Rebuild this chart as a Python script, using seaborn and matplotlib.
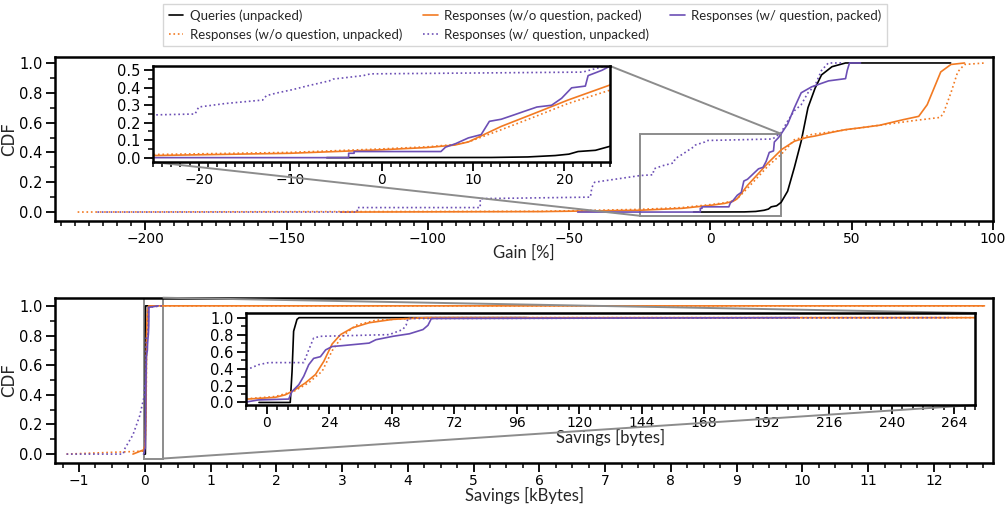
import numpy as np
import pandas as pd
import seaborn as sns
import matplotlib.pyplot as plt
from matplotlib.ticker import MultipleLocator, FuncFormatter
from mpl_toolkits.axes_grid1.inset_locator import mark_inset

#=====data=====
labels = ['Queries (unpacked)',
          'Responses (w/o question, unpacked)',
          'Responses (w/o question, packed)',
          'Responses (w/ question, unpacked)',
          'Responses (w/ question, packed)']
colors = ['black', '#f27a22', '#f27a22', '#6c4fb5', '#6c4fb5']
styles = ['-', ':', '-', ':', '-']

# gain [%] -> CDF
gain_q_x = [-6, 12, 16, 19, 20.5, 21.5, 23.4, 25, 27.3, 29.7, 32.1, 34.5, 37, 39.3, 43, 47.8, 85]
gain_q_y = [0, 0.001, 0.004, 0.012, 0.02, 0.035, 0.042, 0.065, 0.14, 0.30, 0.475, 0.70, 0.83, 0.92, 0.975, 1.0, 1.0]
gain_ou_x = [-224, -60, -25, -10, 0, 5, 8, 9.5, 13.1, 16.8, 20.4, 25.2, 29.7, 35.8, 53.8, 71.8, 81.4, 82.6, 85.1, 87.5, 89.9, 97.1]
gain_ou_y = [0, 0.005, 0.018, 0.03, 0.05, 0.062, 0.075, 0.09, 0.16, 0.235, 0.31, 0.39, 0.485, 0.52, 0.567, 0.613, 0.635, 0.67, 0.80, 0.94, 0.99, 1.0]
gain_op_x = [-131, -60, -25, -10, 0, 5, 8, 9.5, 13.1, 16.8, 20.4, 25.2, 29.7, 34, 37, 43, 47.8, 53, 59.8, 68.3, 73.7, 76.7, 79.1, 81.5, 85.1, 89.9]
gain_op_y = [0, 0.003, 0.012, 0.025, 0.045, 0.058, 0.072, 0.09, 0.179, 0.255, 0.33, 0.42, 0.475, 0.50, 0.51, 0.535, 0.553, 0.565, 0.582, 0.62, 0.642, 0.72, 0.83, 0.94, 0.99, 1.0]
gain_pu_x = [-217, -125, -125, -81.5, -81.5, -42.5, -42, -41, -24.8, -20.4, -20, -17.1, -13, -12.6, -11.5, -9.7, -8.2, -5.7, -5.3, -2, -1.2, 22, 24.1, 24.9, 27.3, 29.7, 32.1, 34.5, 37, 39.3, 41.7, 46.5]
gain_pu_y = [0, 0, 0.03, 0.03, 0.09, 0.1, 0.165, 0.2, 0.245, 0.25, 0.29, 0.31, 0.33, 0.355, 0.37, 0.39, 0.41, 0.44, 0.45, 0.47, 0.48, 0.49, 0.52, 0.53, 0.61, 0.68, 0.72, 0.80, 0.85, 0.95, 1.0, 1.0]
gain_pp_x = [-47, -3.6, -3.6, -3.0, -3.0, 6.5, 7.0, 8.1, 9.5, 10.9, 11.8, 13.1, 14.5, 15.6, 17.0, 18.6, 19.7, 20.8, 22.3, 22.6, 24.1, 25.2, 27.3, 29.7, 32.1, 35.8, 41.8, 47.8, 48.4, 49.2, 53.1]
gain_pp_y = [0, 0, 0.025, 0.025, 0.035, 0.035, 0.06, 0.08, 0.113, 0.132, 0.208, 0.22, 0.245, 0.265, 0.29, 0.30, 0.34, 0.40, 0.41, 0.47, 0.50, 0.53, 0.59, 0.70, 0.80, 0.84, 0.88, 0.895, 0.95, 1.0, 1.0]

# savings [bytes] -> CDF
sav_q_x = [-3, 9.0, 9.7, 10.3, 11.6, 12.4, 100]
sav_q_y = [0, 0.0, 0.365, 0.84, 0.98, 1.0, 1.0]
sav_ou_x = [-1190, -20, -7.4, 3.2, 10.3, 16, 21.3, 25.1, 29, 34.2, 41.9, 54.8, 62, 12770]
sav_ou_y = [0, 0.02, 0.045, 0.07, 0.13, 0.23, 0.37, 0.61, 0.78, 0.91, 0.97, 0.99, 1.0, 1.0]
sav_op_x = [-180, -10, -7.4, 3.2, 7.1, 10.3, 14.8, 18.7, 21.9, 25.1, 28.3, 32.9, 39.3, 48.4, 61, 12770]
sav_op_y = [0, 0.03, 0.04, 0.06, 0.09, 0.14, 0.23, 0.33, 0.485, 0.69, 0.80, 0.88, 0.94, 0.98, 1.0, 1.0]
sav_pu_x = [-1190, -330, -300, -180, -76, -25, -7.4, -3.2, 0.7, 14.2, 16.1, 18, 20.6, 47, 52.2, 53.5, 54.2, 262]
sav_pu_y = [0, 0, 0.04, 0.13, 0.26, 0.36, 0.39, 0.445, 0.47, 0.47, 0.62, 0.76, 0.78, 0.80, 0.86, 0.91, 0.99, 1.0]
sav_pp_x = [-20, -8, -3.2, 8.4, 9.7, 12.3, 14.2, 16.1, 18, 20.6, 22.6, 25.1, 29, 39.3, 41.9, 48.4, 54.8, 60, 61.9, 63.2, 204]
sav_pp_y = [0, 0.005, 0.03, 0.04, 0.13, 0.21, 0.31, 0.445, 0.52, 0.54, 0.62, 0.66, 0.67, 0.70, 0.74, 0.78, 0.81, 0.86, 0.91, 0.99, 1.0]

gain = [(gain_q_x, gain_q_y), (gain_ou_x, gain_ou_y), (gain_op_x, gain_op_y),
        (gain_pu_x, gain_pu_y), (gain_pp_x, gain_pp_y)]
sav = [(sav_q_x, sav_q_y), (sav_ou_x, sav_ou_y), (sav_op_x, sav_op_y),
       (sav_pu_x, sav_pu_y), (sav_pp_x, sav_pp_y)]

#=====style=====
sns.set_theme(style="ticks")
plt.rcParams['font.family'] = ['DejaVu Sans']
plt.rcParams['font.size'] = 10
plt.rcParams['axes.linewidth'] = 1.8
plt.rcParams['axes.edgecolor'] = 'black'
plt.rcParams['xtick.color'] = 'black'
plt.rcParams['ytick.color'] = 'black'
plt.rcParams['xtick.labelsize'] = 10
plt.rcParams['ytick.labelsize'] = 10.5
plt.rcParams['xtick.major.size'] = 6.5
plt.rcParams['ytick.major.size'] = 6.5
plt.rcParams['xtick.minor.size'] = 3.8
plt.rcParams['ytick.minor.size'] = 3.8
plt.rcParams['xtick.major.pad'] = 1.5
plt.rcParams['ytick.major.pad'] = 2.5
plt.rcParams['xtick.major.width'] = 1.3
plt.rcParams['ytick.major.width'] = 1.3
plt.rcParams['xtick.minor.width'] = 1.1
plt.rcParams['ytick.minor.width'] = 1.1
label_font = 'Lato'


def draw(ax, data, scale=1.0):
    handles = []
    for (xs, ys), lab, c, ls in zip(data, labels, colors, styles):
        sns.lineplot(x=np.array(xs) * scale, y=np.array(ys), color=c, linestyle=ls,
                     lw=1.2, estimator=None, sort=False, legend=False, ax=ax, label=lab)
        handles.append(ax.lines[-1])
    ax.set_xlabel('')
    ax.set_ylabel('')
    return handles


fig = plt.figure(figsize=(10.06, 5.05), dpi=100)

#=====top: gain=====
ax1 = fig.add_axes([0.0547, 0.5624, 0.9324, 0.3247])
handles = draw(ax1, gain)
ax1.set_xlim(-232, 100)
ax1.set_ylim(-0.06, 1.04)
ax1.xaxis.set_major_locator(MultipleLocator(50))
ax1.xaxis.set_minor_locator(MultipleLocator(5))
ax1.yaxis.set_major_locator(MultipleLocator(0.2))
ax1.yaxis.set_minor_locator(MultipleLocator(0.1))
ax1.set_xlabel('Gain [%]', fontfamily=label_font, fontsize=12, labelpad=-1)
ax1.set_ylabel('CDF', fontsize=12, labelpad=0.5)

ins1 = fig.add_axes([0.1521, 0.6792, 0.4543, 0.1901])
draw(ins1, gain)
ins1.set_xlim(-25, 25)
ins1.set_ylim(-0.025, 0.525)
ins1.xaxis.set_major_locator(MultipleLocator(10))
ins1.xaxis.set_minor_locator(MultipleLocator(1))
ins1.yaxis.set_major_locator(MultipleLocator(0.1))
ins1.yaxis.set_minor_locator(MultipleLocator(0.05))
ins1.set_facecolor('white')
mark_inset(ax1, ins1, loc1=1, loc2=3, fc='none', ec='0.55', lw=1.4)

#=====bottom: savings=====
ax2 = fig.add_axes([0.0547, 0.0832, 0.9324, 0.3267])
draw(ax2, sav, scale=1e-3)
ax2.set_xlim(-1.365, 12.9)
ax2.set_ylim(-0.06, 1.053)
ax2.xaxis.set_major_locator(MultipleLocator(1))
ax2.xaxis.set_minor_locator(MultipleLocator(0.25))
ax2.yaxis.set_major_locator(MultipleLocator(0.2))
ax2.yaxis.set_minor_locator(MultipleLocator(0.1))
ax2.set_xlabel('Savings [kBytes]', fontfamily=label_font, fontsize=12, labelpad=-0.5)
ax2.set_ylabel('CDF', fontsize=12, labelpad=0.5)

ins2 = fig.add_axes([0.2445, 0.198, 0.7247, 0.1822])
draw(ins2, sav, scale=1e-3)
ins2.set_xlim(-0.008, 0.272)
ins2.set_ylim(-0.03, 1.055)
ins2.xaxis.set_major_locator(MultipleLocator(0.024))
ins2.xaxis.set_minor_locator(MultipleLocator(0.004))
ins2.xaxis.set_major_formatter(FuncFormatter(lambda v, p: f'{v * 1000:.0f}'))
ins2.yaxis.set_major_locator(MultipleLocator(0.2))
ins2.yaxis.set_minor_locator(MultipleLocator(0.1))
ins2.set_xlabel('Savings [bytes]', fontfamily=label_font, fontsize=12, labelpad=-0.5)
ins2.set_facecolor('white')
mark_inset(ax2, ins2, loc1=1, loc2=4, fc='none', ec='0.55', lw=1.4)

#=====legend=====
leg = fig.legend(handles, labels, loc='upper center', bbox_to_anchor=(0.522, 1.0),
                 ncol=3, handlelength=1.1, handletextpad=0.5,
                 columnspacing=1.6, borderaxespad=0.3, frameon=True,
                 prop={'family': label_font, 'size': 9.5}, fancybox=False)
leg.get_frame().set_edgecolor('#cccccc')

plt.savefig('out.png', dpi=100)
